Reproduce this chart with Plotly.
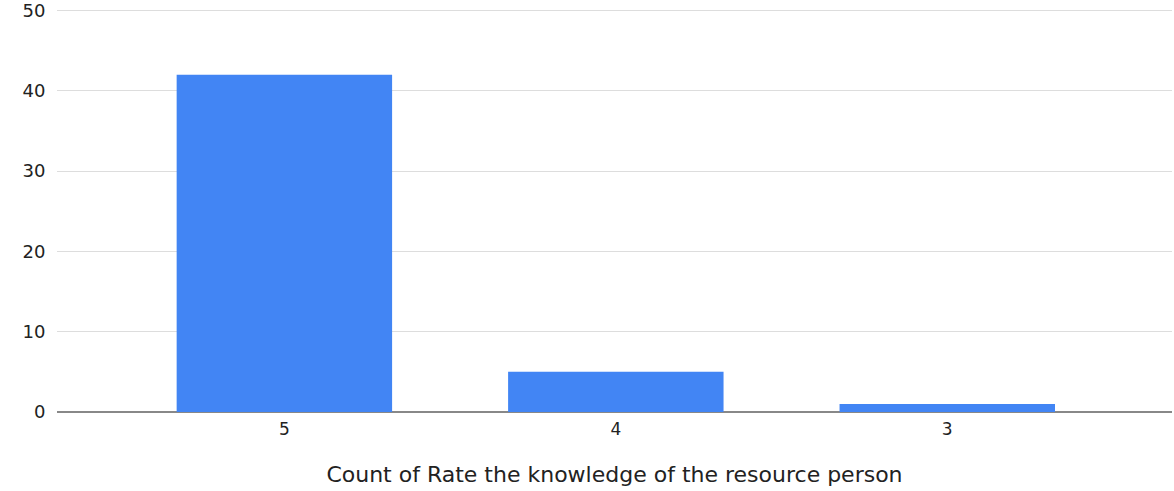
import plotly.graph_objects as go

categories = ["5", "4", "3"]
counts = [42, 5, 1]
y_ticks = [0, 10, 20, 30, 40, 50]

fig = go.Figure()
fig.add_trace(go.Bar(
    x=categories, y=counts,
    marker=dict(color="#4285F4", line=dict(width=0)),
    width=0.65,
))

fig.update_layout(
    width=1174, height=491,
    margin=dict(l=57, r=2, t=8, b=79),
    plot_bgcolor="white", paper_bgcolor="white",
    font=dict(family="DejaVu Sans, Arial, sans-serif", size=17, color="#222222"),
    showlegend=False,
)
fig.update_xaxes(
    type="category",
    range=[-0.686, 2.678],
    automargin=False,
    showgrid=False,
    showline=False,
    ticks="outside", ticklen=2, tickcolor="rgba(0,0,0,0)",
    tickfont=dict(size=17, color="#222222"),
    title=dict(text="Count of Rate the knowledge of the resource person",
               font=dict(size=22, color="#222222"), standoff=28),
)
fig.update_yaxes(
    range=[0, 50.3],
    automargin=False,
    tickvals=y_ticks,
    ticklabeloverflow="allow",
    showgrid=True, gridcolor="#dddddd", gridwidth=1,
    zeroline=True, zerolinecolor="#888888", zerolinewidth=1.5,
    ticks="outside", ticklen=7, tickcolor="rgba(0,0,0,0)",
    tickfont=dict(size=18, color="#222222"),
)
fig.write_html(
    "out.html",
    config={"responsive": False, "displayModeBar": False},
    post_script="document.body.style.margin='0';document.body.style.overflow='hidden';",
)
